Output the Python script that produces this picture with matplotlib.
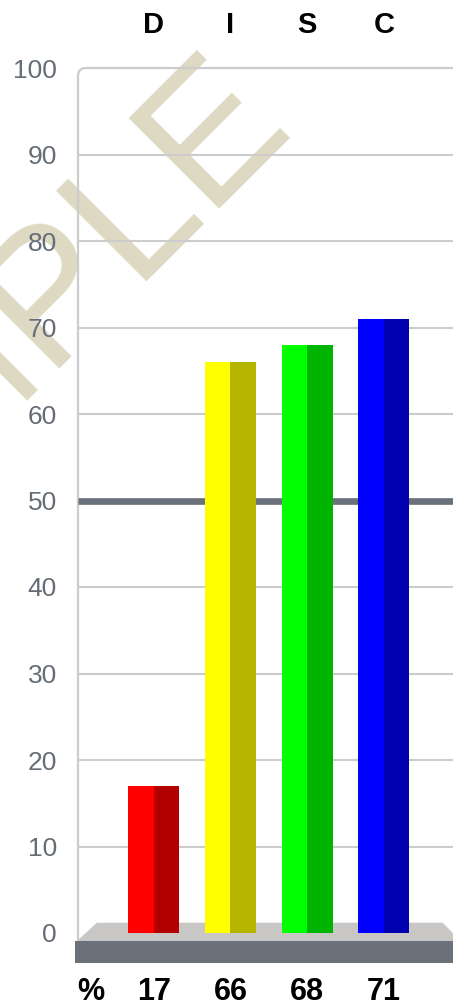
import matplotlib
matplotlib.use("Agg")
import matplotlib.pyplot as plt
from matplotlib.path import Path
from matplotlib.patches import PathPatch, Polygon, Rectangle
from matplotlib.transforms import blended_transform_factory

# DISC profile values
categories = ["D", "I", "S", "C"]
values = [17, 66, 68, 71]
light_colors = ["#ff0000", "#ffff00", "#00ff00", "#0000ff"]
dark_colors = ["#b20000", "#b5b500", "#00b400", "#0000b0"]
yticks = [0, 10, 20, 30, 40, 50, 60, 70, 80, 90, 100]
midline = 50

W, H = 453, 1008
fig = plt.figure(figsize=(W / 100, H / 100), dpi=100)
plt.rcParams["font.family"] = ["Liberation Sans", "DejaVu Sans"]

# axes frame in pixels: x 77..453, y (value 100) at 68, bottom of floor at 963
px_per_unit = (933 - 68) / 100.0
ymin = -(963 - 933) / px_per_unit
ax = fig.add_axes([77 / W, (H - 963) / H, (W - 77) / W, (963 - 68) / H])
ax.set_xlim(-1, 3.9)
ax.set_ylim(ymin, 100)
ax.patch.set_visible(False)
for s in ax.spines.values():
    s.set_visible(False)

# watermark
ax.text(-236 / W, (H - 656) / H, "SAMPLE", transform=fig.transFigure,
        fontsize=133, color="#ddd9c2", rotation=45, rotation_mode="anchor",
        ha="left", va="baseline", zorder=0.5, clip_on=False)

# gridlines
grid_color = "#cccccc"
for t in yticks[1:-1]:
    if t == midline:
        continue
    ax.plot([-1, 3.9], [t, t], color=grid_color, lw=1.5, zorder=1,
            solid_capstyle="butt")

# left border + top line with rounded corner
x0 = -1 + 1 / 76.8
rx, ry = 8 / 76.8, 8 / px_per_unit
verts = [(x0, -0.9), (x0, 100 - ry), (x0, 100), (x0 + rx, 100), (3.9, 100)]
codes = [Path.MOVETO, Path.LINETO, Path.CURVE3, Path.CURVE3, Path.LINETO]
ax.add_patch(PathPatch(Path(verts, codes), fill=False, edgecolor=grid_color,
                       lw=1.6, zorder=1.2, clip_on=False))

# 50% reference line
ax.plot([-1 + 1 / 76.8, 3.9], [midline, midline], color="#6b717a", lw=4.8,
        zorder=1.5, solid_capstyle="butt")

# floor: light top face and dark front face
floor_top = 10.3 / px_per_unit
floor_mid = -8 / px_per_unit
ax.add_patch(Polygon([(-0.74, floor_top), (3.766, floor_top),
                      (3.766 + 18 / 76.8, floor_mid), (-1, floor_mid)],
                     closed=True, facecolor="#c9c7c5", edgecolor="none",
                     zorder=1.8))
ax.add_patch(Rectangle((-1.03, ymin), 5, floor_mid - ymin,
                       facecolor="#6b717a", edgecolor="none", zorder=1.8,
                       clip_on=False))

# bars: lighter left half, darker right half
w = 51 / 76.8
xs = list(range(len(categories)))
ax.bar(xs, values, width=-w / 2, align="edge", color=light_colors, zorder=2)
ax.bar(xs, values, width=w / 2, align="edge", color=dark_colors, zorder=2)

# y tick labels
ax.set_yticks(yticks)
ax.set_yticklabels([str(t) for t in yticks])
ax.tick_params(axis="y", length=0, pad=14.4, labelsize=19,
               labelcolor="#656d77")
ax.set_xticks([])

# category letters above, values below
tr = blended_transform_factory(ax.transData, fig.transFigure)
for x, c, v in zip(xs, categories, values):
    ax.text(x, (H - 25) / H, c, transform=tr, ha="center", va="center",
            fontsize=21, fontweight="bold", color="#000000")
    ax.text(x, (H - 992) / H, str(v), transform=tr, ha="center", va="center",
            fontsize=22, fontweight="bold", color="#000000")
ax.text(-0.82, (H - 992) / H, "%", transform=tr, ha="center", va="center",
        fontsize=22, fontweight="bold", color="#000000")

fig.savefig("out.png", dpi=100)
